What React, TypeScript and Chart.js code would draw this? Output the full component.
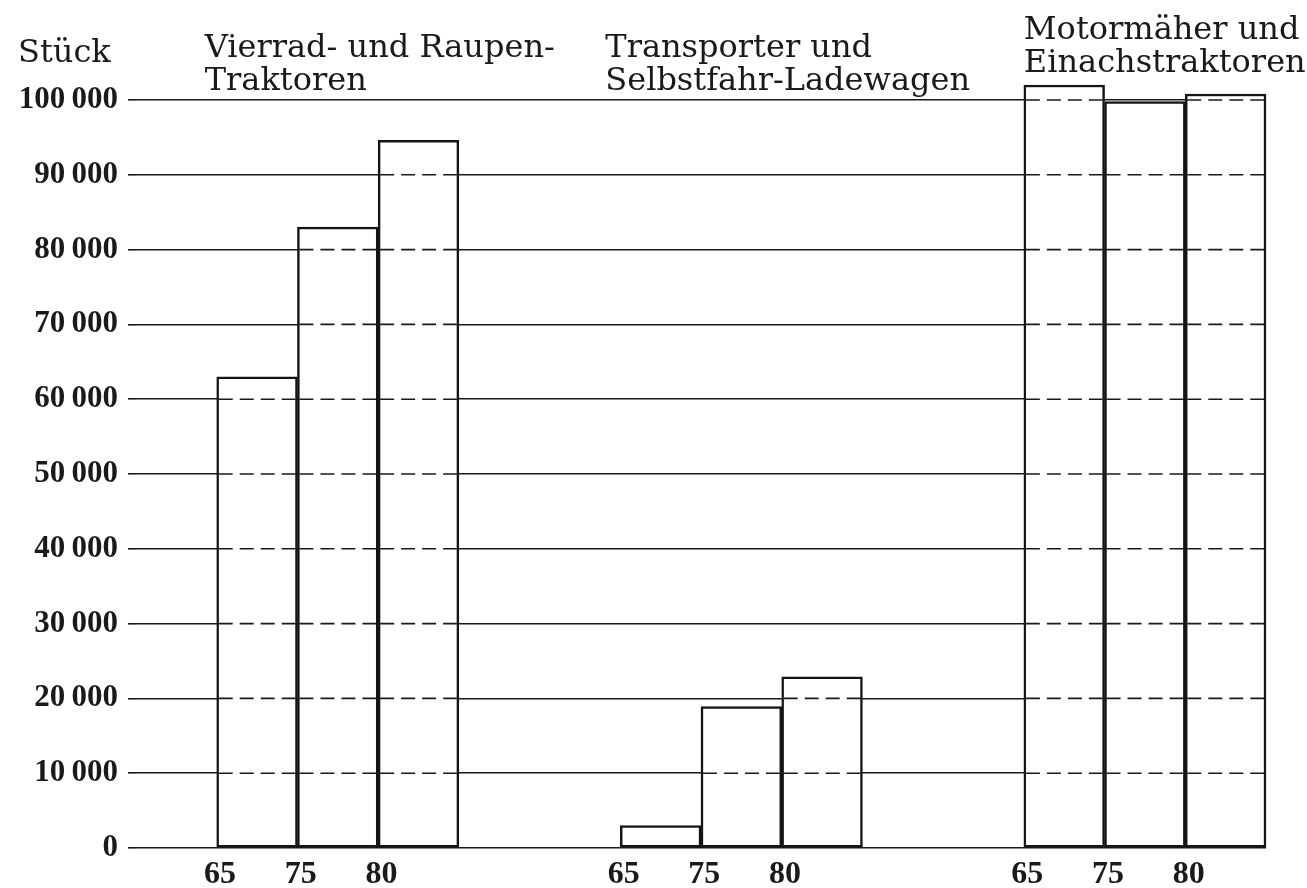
import React, { useEffect, useRef } from "react";
import { Chart, registerables } from "chart.js";

Chart.register(...registerables);

// ---- data ----
const yearLabels = ["65", "75", "80"];
const groupTitles = [
  ["Vierrad- und Raupen-", "Traktoren"],
  ["Transporter und", "Selbstfahr-Ladewagen"],
  ["Motormäher und", "Einachstraktoren"],
];
const traktoren = [63000, 83000, 94600];
const transporter = [3000, 18900, 22900];
const motormaeher = [102000, 99800, 100800];
const yTickValues = [0, 10000, 20000, 30000, 40000, 50000, 60000, 70000, 80000, 90000, 100000];
const yTickLabels = ["0", "10\u2009000", "20\u2009000", "30\u2009000", "40\u2009000", "50\u2009000", "60\u2009000", "70\u2009000", "80\u2009000", "90\u2009000", "100\u2009000"];
const yUnit = "Stück";

// slot layout: 1 empty, group, 2 empty, group, 2 empty, group
const groups = [traktoren, transporter, motormaeher];
const leadingGap = 1;
const groupGap = 2;

const slotValues: (number | null)[] = [];
const slotNames: string[] = [];
const slotTickLabels: string[] = [];
const groupStarts: number[] = [];
for (let i = 0; i < leadingGap; i++) { slotValues.push(null); slotNames.push(""); slotTickLabels.push(""); }
groups.forEach((g, gi) => {
  if (gi > 0) for (let i = 0; i < groupGap; i++) { slotValues.push(null); slotNames.push(""); slotTickLabels.push(""); }
  groupStarts.push(slotValues.length);
  g.forEach((v, j) => {
    slotValues.push(v);
    slotNames.push(groupTitles[gi].join(" ") + " " + yearLabels[j]);
    slotTickLabels.push(yearLabels[j]);
  });
});
const slotCount = slotValues.length;

const INK = "#1a1a1a";
const TITLE_FONT = '32px "DejaVu Serif"';

const dashPlugin = {
  id: "innerDashes",
  afterDatasetsDraw(chart: any) {
    const ctx = chart.ctx;
    const ys = chart.scales.y;
    const meta = chart.getDatasetMeta(0);
    ctx.save();
    ctx.strokeStyle = INK;
    ctx.lineWidth = 1.6;
    ctx.setLineDash([14, 7]);
    meta.data.forEach((bar: any, i: number) => {
      if (slotValues[i] == null) return;
      const p = bar.getProps(["x", "y", "width", "base"], true);
      const left = p.x - p.width / 2;
      const right = p.x + p.width / 2;
      yTickValues.forEach((t) => {
        const py = ys.getPixelForValue(t);
        if (py > p.y + 3 && py < p.base - 3) {
          ctx.beginPath();
          ctx.moveTo(left + 2, py);
          ctx.lineTo(right - 2, py);
          ctx.stroke();
        }
      });
    });
    ctx.restore();
  },
};

const titlePlugin = {
  id: "titles",
  afterDraw(chart: any) {
    const ctx = chart.ctx;
    const xs = chart.scales.x;
    const slotW = (chart.chartArea.right - chart.chartArea.left) / slotCount;
    ctx.save();
    ctx.fillStyle = INK;
    ctx.font = TITLE_FONT;
    ctx.textAlign = "left";
    ctx.textBaseline = "alphabetic";
    ctx.fillText(yUnit, 18, 62);
    const dx = [-12, -15, 0];
    const base = [57, 57, 39];
    groupTitles.forEach((lines, gi) => {
      const x = xs.getPixelForValue(groupStarts[gi]) - slotW / 2 + dx[gi];
      lines.forEach((line, li) => ctx.fillText(line, x, base[gi] + li * 33));
    });
    ctx.restore();
  },
};

export default function App() {
  const ref = useRef<HTMLCanvasElement>(null);
  useEffect(() => {
    document.body.style.margin = "0";
    const chart = new Chart(ref.current as HTMLCanvasElement, {
      type: "bar",
      data: {
        labels: slotNames,
        datasets: [
          {
            data: slotValues,
            backgroundColor: "#ffffff",
            borderColor: "#151515",
            borderWidth: 2.5,
            borderSkipped: false,
            barPercentage: 1,
            categoryPercentage: 1,
            clip: false,
          } as any,
        ],
      },
      options: {
        responsive: false,
        animation: false,
        devicePixelRatio: 1,
        layout: { padding: { top: 100, right: 41, left: 0, bottom: 0 } },
        plugins: { legend: { display: false }, tooltip: { enabled: false }, title: { display: false } },
        scales: {
          x: {
            type: "category",
            grid: { display: false },
            border: { display: false },
            afterFit: (s: any) => { s.height = 40; },
            ticks: {
              autoSkip: false,
              maxRotation: 0,
              minRotation: 0,
              padding: 0,
              labelOffset: -37,
              color: INK,
              font: { family: "Liberation Serif", weight: "bold", size: 32 },
              callback: (_v: any, i: number) => slotTickLabels[i] ?? "",
            },
          },
          y: {
            min: 0,
            max: 100000,
            afterFit: (s: any) => { s.width = 136; },
            border: { display: false },
            grid: { color: INK, lineWidth: 1.6, drawTicks: true, tickLength: 8 },
            ticks: {
              stepSize: 10000,
              padding: 10,
              color: INK,
              font: { family: "Liberation Serif", weight: "bold", size: 31 },
              callback: (v: any) => yTickLabels[yTickValues.indexOf(Number(v))] ?? "",
            },
          },
        },
      } as any,
      plugins: [dashPlugin, titlePlugin],
    });
    return () => chart.destroy();
  }, []);
  return (
    <div style={{ width: 1307, height: 888, background: "#fff" }}>
      <canvas ref={ref} width={1307} height={888} />
    </div>
  );
}
